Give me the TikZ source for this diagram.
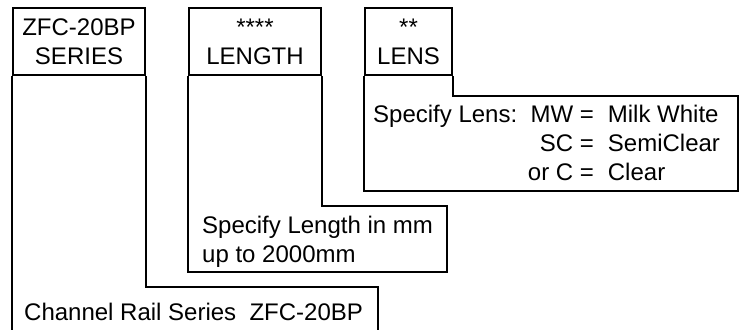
\documentclass[tikz,border=0pt]{standalone}
\usepackage{fontspec}
\setmainfont{Liberation Sans}
\usetikzlibrary{positioning}
\tikzset{
  hdr/.style={draw,line width=1.9pt,minimum height=67pt,inner sep=0pt,align=center,font=\fontsize{24}{29}\selectfont},
  desc/.style={anchor=base west,inner sep=0pt,font=\fontsize{24}{29}\selectfont},
  rail/.style={line width=1.9pt,line join=miter}
}
\begin{document}
\begin{tikzpicture}[x=1pt,y=-1pt]
   \useasboundingbox (0,0) rectangle (744,330);
   %headers
   \node[hdr,minimum width=132pt] (series) at (79,41.5) {ZFC-20BP\\SERIES};
   \node[hdr,minimum width=132pt] (length) at (255,41.5) {****\\LENGTH};
   \node[hdr,minimum width=87pt] (lens) at (408.5,41.5) {**\\LENS};
   %series column
   \draw[rail] (series.south west) -- (series.south west |- 0,330);
   \draw[rail] (series.south east) |- (378,287) -- (378,330);
   %length column
   \draw[rail] (length.south west) |- (447,272) -- (447,206) -| (length.south east);
   %lens column
   \draw[rail] (lens.south west) |- (738,191) -- (738,96) -| (lens.south east);
   %description
   \node[desc] (railtext) at (24,320.5) {Channel Rail Series\ \ ZFC-20BP};
   \node[desc] (lengthtext) at (202,233) {\begin{tabular}[t]{@{}l@{}}Specify Length in mm\\up to 2000mm\end{tabular}};
   \node[desc] (lenstext) at (373,122) {\begin{tabular}[t]{@{}r@{\hspace{14pt}}l@{}}Specify Lens:\ \ MW =&Milk White\\SC =&SemiClear\\or C =&Clear\end{tabular}};
\end{tikzpicture}
\end{document}
